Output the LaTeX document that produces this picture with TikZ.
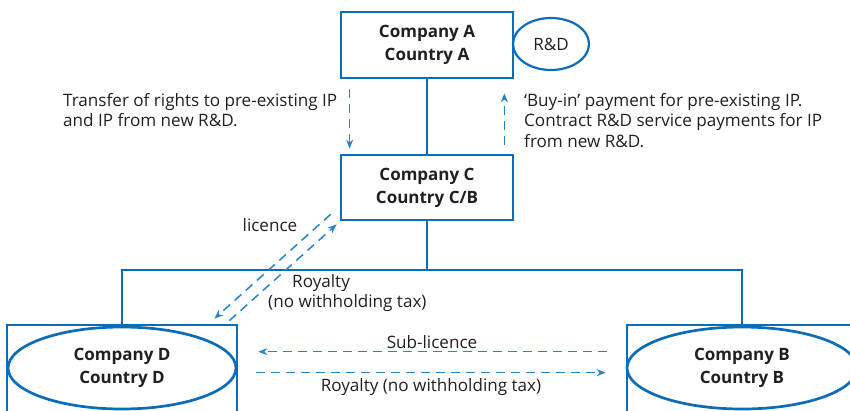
\documentclass[tikz,border=0pt]{standalone}
\usepackage{fontspec}
\setmainfont{Open Sans}
\usetikzlibrary{arrows.meta,calc,shapes.geometric}
\definecolor{boxblue}{HTML}{0B6DB7}
\definecolor{dashblue}{HTML}{2585CC}
\definecolor{txt}{HTML}{231F20}
\tikzset{
  boxline/.style={draw=boxblue, line width=2.7pt},
  treeline/.style={draw=boxblue, line width=2pt},
  cbox/.style={rectangle, boxline, minimum width=172pt, minimum height=66pt, inner sep=0pt,
    font=\bfseries\fontsize{17}{23}\selectfont, text=txt, align=center},
  plainbox/.style={rectangle, boxline, minimum width=230pt, minimum height=115pt, inner sep=0pt},
  ell/.style={ellipse, boxline, inner sep=0pt, text=txt, align=center},
  dasharrow/.style={draw=dashblue, line width=1.5pt, dash pattern=on 9pt off 6pt,
    -{Stealth[length=9pt,width=7pt]}},
  lbl/.style={text=txt, font=\fontsize{17.1}{20.5}\selectfont, inner sep=0pt},
}
\begin{document}
\begin{tikzpicture}[x=1pt,y=-1pt]
\useasboundingbox (0,0) rectangle (850,410);
\clip (0,0) rectangle (850,410);

% boxes
\node[cbox, minimum height=66pt] (A) at (427,45) {Company A\\Country A};
\node[cbox, minimum height=65pt] (C) at (427,187.5) {Company C\\Country C/B};
\node[ell, minimum width=76pt, minimum height=52pt, line width=2.2pt, font=\fontsize{17}{20}\selectfont] (RD) at (551,44) {R\&D};

\node[plainbox] (Dbox) at (122,382.5) {};
\node[plainbox] (Bbox) at (742,382.5) {};
\node[ell, minimum width=228pt, minimum height=82pt, font=\bfseries\fontsize{17}{23}\selectfont] (Dell) at (122,368) {Company D\\Country D};
\node[ell, minimum width=230pt, minimum height=82pt, font=\bfseries\fontsize{17}{23}\selectfont] (Bell) at (742,368) {Company B\\Country B};

% tree lines
\coordinate (j) at ($(C.south)+(0,49)$);
\draw[treeline] (A.south) -- (C.north);
\draw[treeline] (C.south) -- (j);
\draw[treeline] (Dbox.north) |- (j) -| (Bbox.north);

% dashed arrows A <-> C
\draw[dasharrow] ($(A.south west)+(10,10)$) -- ($(C.north west)+(10,-5)$);
\draw[dasharrow] ($(C.north east)+(-10,-9)$) -- ($(A.south east)+(-10,14)$);

% diagonal arrows C <-> D
\draw[dasharrow] ($(C.south west)+(-9,-7)$) -- ($(Dbox.north east)+(-24,-5)$);
\draw[dasharrow] ($(Dbox.north east)+(-9,-3)$) -- ($(C.south west)+(-3,3)$);

% horizontal arrows D <-> B
\draw[dasharrow] ($(Bbox.north west)+(-19,28)$) -- ($(Dbox.north east)+(20,28)$);
\draw[dasharrow] ($(Dbox.north east)+(18,49)$) -- ($(Bbox.north west)+(-20,49)$);

% labels
\node[lbl, anchor=north west, align=left] (t1) at (63,93) {Transfer of rights to pre-existing IP\\and IP from new R\&D.};
\node[lbl, anchor=north west, align=left] (t2) at (524,93) {‘Buy-in’ payment for pre-existing IP.\\Contract R\&D service payments for IP\\from new R\&D.};
\node[lbl] (t3) at (270,225) {licence};
\node[lbl, anchor=north west, align=left] (t4) at (268,274) {\hspace*{24pt}Royalty\\(no withholding tax)};
\node[lbl] (t5) at (432,342.5) {Sub-licence};
\node[lbl] (t6) at (431,387) {Royalty (no withholding tax)};
\end{tikzpicture}
\end{document}
